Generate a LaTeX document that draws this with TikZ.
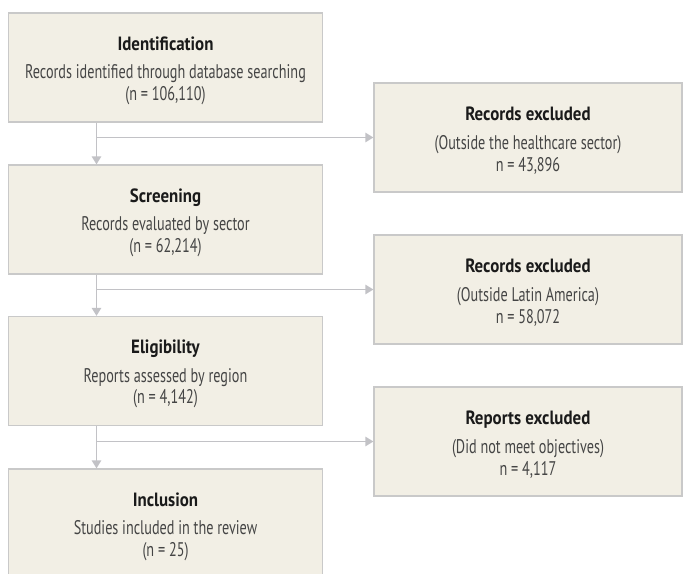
\documentclass[tikz,border=0pt]{standalone}
\usepackage{fontspec}
\setmainfont{PT Sans}
\newfontfamily\narrowfont[FakeStretch=0.72]{PT Sans}
\newfontfamily\titlefont[FakeStretch=0.88]{PT Sans}
\usetikzlibrary{arrows.meta, positioning, calc}
\definecolor{boxfill}{HTML}{F2EFE5}
\definecolor{boxline}{HTML}{C9C9C9}
\definecolor{linkgray}{HTML}{C2C2C6}
\definecolor{titletext}{HTML}{1A1A1A}
\definecolor{bodytext}{HTML}{454545}
\tikzset{
    prisma/.style={x=0.75pt, y=-0.75pt},
    stage/.style={draw=boxline, line width=0.9pt, fill=boxfill, align=center,
        text=bodytext, inner sep=0pt,
        font=\narrowfont\fontsize{14.8}{16.4}\selectfont},
    mainbox/.style={stage, minimum width=236pt, minimum height=81.75pt},
    sidebox/.style={stage, minimum width=231pt, minimum height=81.75pt},
    link/.style={draw=linkgray, line width=1.25pt,
        -{Triangle[length=6pt, width=7pt, fill=linkgray]}},
}
% bold heading line, with a strut that drops the block a little
\newcommand{\stagetitle}[1]{{\color{titletext}\titlefont\bfseries\fontsize{14.4}{16}\selectfont\rule{0pt}{15pt}#1}\\[4.8pt]}

\begin{document}
\begin{tikzpicture}[prisma]
    \useasboundingbox (0,0) rectangle (683,574);

    % left column
    \node[mainbox] (ident) at (165.5,67.5) {\stagetitle{Identification}Records identified through database searching\\(n = 106,110)};
    \node[mainbox] (screen) at (165.5,219.5) {\stagetitle{Screening}Records evaluated by sector\\(n = 62,214)};
    \node[mainbox] (elig) at (165.5,371) {\stagetitle{Eligibility}Reports assessed by region\\(n = 4,142)};
    \node[mainbox] (incl) at (165.5,523.5) {\stagetitle{Inclusion}Studies included in the review\\(n = 25)};

    % right column
    \node[sidebox] (excl1) at (528,137.5) {\stagetitle{Records excluded}(Outside the healthcare sector)\\n = 43,896};
    \node[sidebox] (excl2) at (528,289.5) {\stagetitle{Records excluded}(Outside Latin America)\\n = 58,072};
    \node[sidebox] (excl3) at (528,441.5) {\stagetitle{Reports excluded}(Did not meet objectives)\\n = 4,117};

    \coordinate (spine) at (96.5,0);

    \draw[link] (ident.south -| spine) -- (screen.north -| spine);
    \draw[link] (spine |- excl1.west) -- (excl1.west);
    \draw[link] (screen.south -| spine) -- (elig.north -| spine);
    \draw[link] (spine |- excl2.west) -- (excl2.west);
    \draw[link] (elig.south -| spine) -- (incl.north -| spine);
    \draw[link] (spine |- excl3.west) -- (excl3.west);

\end{tikzpicture}
\end{document}
